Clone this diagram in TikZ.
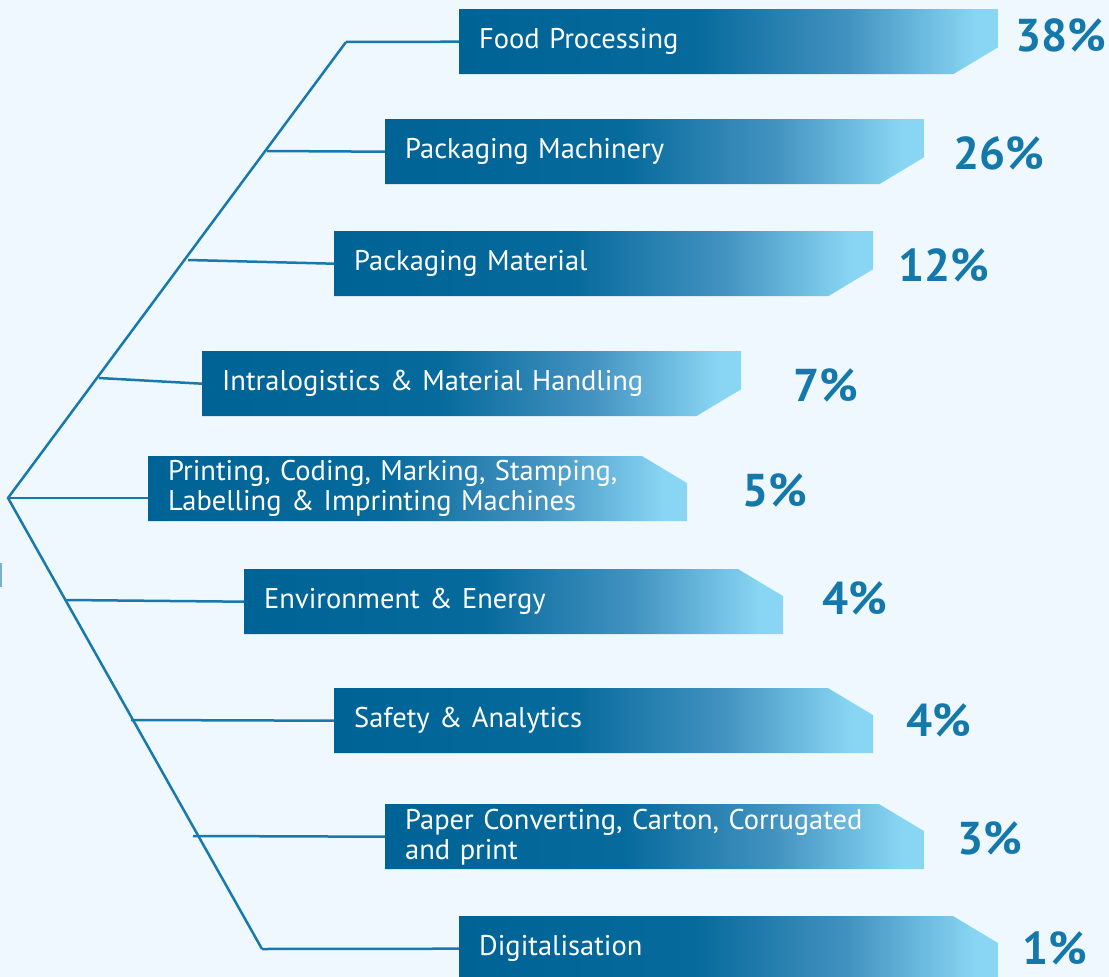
\documentclass[tikz,border=0pt]{standalone}
\usepackage{fontspec}
\setmainfont{PT Sans}
\usepackage{xcolor}
\definecolor{pagebg}{RGB}{238,248,254}
\definecolor{branchblue}{RGB}{24,122,172}
\definecolor{bardark}{RGB}{0,99,150}
\definecolor{bardeep}{RGB}{6,106,156}
\definecolor{barmid}{RGB}{66,146,192}
\definecolor{barlight}{RGB}{137,214,244}
\definecolor{pctblue}{RGB}{20,120,170}
\definecolor{edgemark}{RGB}{120,175,212}
\pgfdeclarehorizontalshading{barshade}{100bp}{color(0bp)=(bardark); color(25bp)=(bardark); color(47bp)=(bardeep); color(61bp)=(barmid); color(73bp)=(barlight); color(100bp)=(barlight)}

\begin{document}
\begin{tikzpicture}[x=1pt, y=-1pt,
    branch/.style={draw=branchblue, line width=2.5pt},
    bar/.style={text=white, font=\fontsize{28.5}{30}\selectfont, align=left,
        text width=499pt, inner xsep=20pt, inner ysep=0pt,
        minimum height=65pt, anchor=north west},
    cutlow/.style={path picture={\shade[shading=barshade]
        (path picture bounding box.north west) -- (path picture bounding box.north east)
        -- ([yshift=27pt]path picture bounding box.south east)
        -- ([xshift=-45pt]path picture bounding box.south east)
        -- (path picture bounding box.south west) -- cycle;}},
    cuthigh/.style={path picture={\shade[shading=barshade]
        (path picture bounding box.north west) -- ([xshift=-45pt]path picture bounding box.north east)
        -- ([yshift=-27pt]path picture bounding box.north east)
        -- (path picture bounding box.south east)
        -- (path picture bounding box.south west) -- cycle;}},
    pct/.style={text=pctblue, font=\fontsize{46}{46}\selectfont\bfseries,
        inner sep=0pt, anchor=west}]
    % Page
    \fill[pagebg] (0,0) rectangle (1109,977);
    \useasboundingbox (0,0) rectangle (1109,977);
    \fill[edgemark] (0,563) rectangle (2,587);

    % Bars
    \node[bar, cutlow] (food) at (459,9) {Food Processing};
    \node[bar, cutlow] (pmach) at (385,119) {Packaging Machinery};
    \node[bar, cutlow] (pmat) at (334,231) {Packaging Material};
    \node[bar, cutlow] (intra) at (202,351) {Intralogistics \& Material Handling};
    \node[bar, cuthigh] (print) at (148,456) {Printing, Coding, Marking, Stamping,\\Labelling \& Imprinting Machines};
    \node[bar, cuthigh] (envir) at (244,569) {Environment \& Energy};
    \node[bar, cuthigh] (safety) at (334,688) {Safety \& Analytics};
    \node[bar, cuthigh] (paper) at (385,804) {Paper Converting, Carton, Corrugated\\and print};
    \node[bar, cuthigh] (digital) at (459,916) {Digitalisation};

    % Shares
    \node[pct] (pfood) at (1015,35) {38\%};
    \node[pct] (ppmach) at (953,153) {26\%};
    \node[pct] (ppmat) at (898,265) {12\%};
    \node[pct] (pintra) at (793,385) {7\%};
    \node[pct] (pprint) at (742,490) {5\%};
    \node[pct] (penvir) at (822,598) {4\%};
    \node[pct] (psafety) at (906,720) {4\%};
    \node[pct] (ppaper) at (957,838) {3\%};
    \node[pct] (pdigital) at (1022,948) {1\%};

    % Spine
    \coordinate (root) at (8,498);
    \coordinate (top) at (346,42);
    \coordinate (bottom) at (262,949);
    \coordinate (j2) at (267,151);
    \coordinate (j3) at (188,260);
    \coordinate (j4) at (99,378);
    \coordinate (j6) at (66,600);
    \coordinate (j7) at (131,720);
    \coordinate (j8) at (193,836);
    \draw[branch] (top) -- (root) -- (bottom);

    % Branches
    \draw[branch] (top) -- (food.west);
    \draw[branch] (j2) -- (pmach.west);
    \draw[branch] (j3) -- (pmat.west);
    \draw[branch] (j4) -- (intra.west);
    \draw[branch] (root) -- (root -| print.west);
    \draw[branch] (j6) -- (envir.west);
    \draw[branch] (j7) -- (safety.west);
    \draw[branch] (j8) -- (paper.west);
    \draw[branch] (bottom) -- (digital.west);
\end{tikzpicture}
\end{document}
